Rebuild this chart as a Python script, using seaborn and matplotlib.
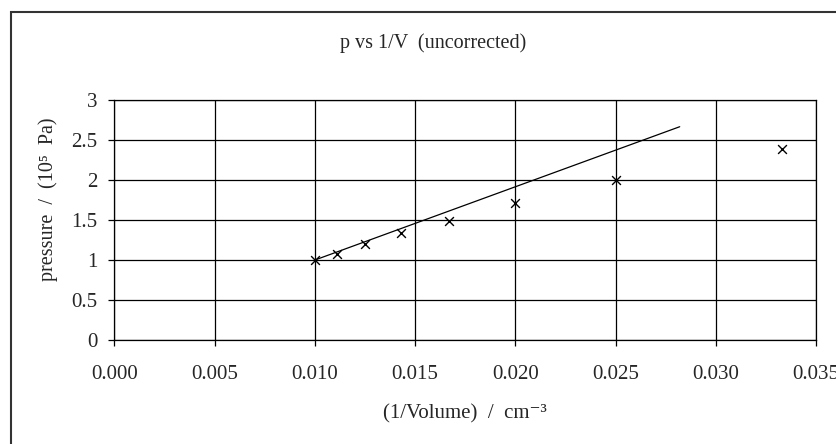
import matplotlib
matplotlib.use("Agg")
import matplotlib.pyplot as plt
import matplotlib.patches as mpatches
import seaborn as sns
import pandas as pd

# ---- data ----
inv_volume = [0.0100, 0.0111, 0.0125, 0.0143, 0.0167, 0.0200, 0.0250, 0.0333]
pressure = [1.00, 1.08, 1.20, 1.34, 1.49, 1.71, 2.00, 2.39]
fit_x = [0.0100, 0.0282]
fit_y = [1.00, 2.666]
x_ticks = [0.000, 0.005, 0.010, 0.015, 0.020, 0.025, 0.030, 0.035]
x_tick_labels = ["0.000", "0.005", "0.010", "0.015", "0.020", "0.025", "0.030", "0.035"]
y_ticks = [0, 0.5, 1, 1.5, 2, 2.5, 3]
y_tick_labels = ["0", "0.5", "1", "1.5", "2", "2.5", "3"]

sns.set_theme(style="white")
plt.rcParams["font.family"] = ["Liberation Serif", "DejaVu Serif"]

W, H = 837, 444
fig = plt.figure(figsize=(W / 100, H / 100), dpi=100)
left, right, top, bottom = 114.5, 816, 100, 340
ax = fig.add_axes([left / W, 1 - bottom / H, (right - left) / W, (bottom - top) / H])

df_pts = pd.DataFrame({"x": inv_volume, "p": pressure})
df_fit = pd.DataFrame({"x": fit_x, "p": fit_y})

sns.lineplot(data=df_fit, x="x", y="p", ax=ax, color="black", linewidth=0.9, zorder=3)
sns.scatterplot(data=df_pts, x="x", y="p", ax=ax, marker="x", color="black",
                s=40, linewidth=1.0, zorder=4)

ax.set_xlim(0, 0.035)
ax.set_ylim(0, 3)
ax.set_xticks(x_ticks)
ax.set_xticklabels(x_tick_labels)
ax.set_yticks(y_ticks)
ax.set_yticklabels(y_tick_labels)

ax.grid(True, color="black", linewidth=0.9)
ax.set_axisbelow(True)
for sp in ax.spines.values():
    sp.set_color("black")
    sp.set_linewidth(0.9)

ax.tick_params(axis="x", direction="out", length=4.3, width=0.9, color="black",
               pad=14, labelsize=15, bottom=True)
ax.tick_params(axis="y", direction="out", length=4.3, width=0.9, color="black",
               pad=8, labelsize=15, left=True)

ax.set_xlabel("(1/Volume)  /  cm\u207b\u00b3", fontsize=15, va="center")
ax.xaxis.set_label_coords(0.5, (bottom - 414) / (bottom - top))
ax.set_ylabel("pressure  /  (10\u2075  Pa)", fontsize=14.5, va="center")
ax.yaxis.set_label_coords((48 - left) / (right - left), (bottom - 199) / (bottom - top))

fig.text(433 / W, 1 - 43 / H, "p vs 1/V  (uncorrected)", ha="center", va="center",
         fontsize=14.5)

# outer chart frame (only top and left edges visible in the crop)
frame = mpatches.Rectangle((11 / W, -0.2), 1.2, 1 - 12 / H + 0.2,
                           transform=fig.transFigure, fill=False,
                           edgecolor="#333333", linewidth=1.5, clip_on=False)
fig.patches.append(frame)

fig.savefig("out.png", dpi=100)
